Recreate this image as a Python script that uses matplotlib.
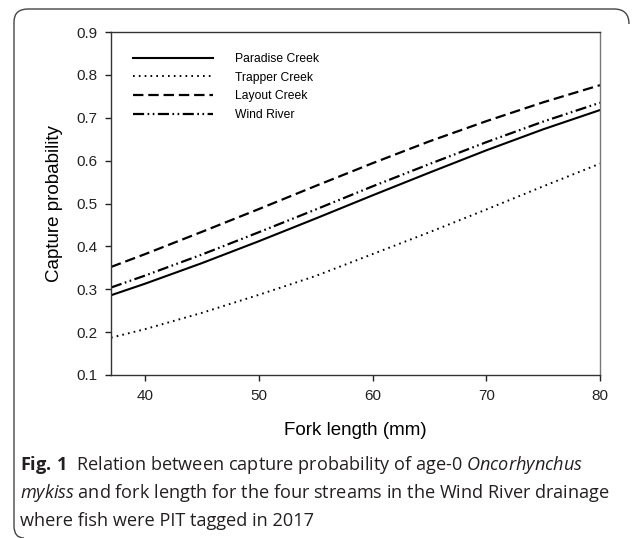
import matplotlib
matplotlib.use("Agg")
import matplotlib.pyplot as plt
from matplotlib.path import Path
from matplotlib.patches import PathPatch

# fork length (mm) and capture probability
fork_length = [37, 40, 45, 50, 55, 60, 65, 70, 75, 80]
paradise = [0.286, 0.313, 0.361, 0.412, 0.465, 0.519, 0.572, 0.624, 0.673, 0.718]
trapper = [0.187, 0.207, 0.245, 0.287, 0.331, 0.382, 0.433, 0.486, 0.540, 0.593]
layout = [0.352, 0.382, 0.434, 0.487, 0.541, 0.594, 0.645, 0.692, 0.736, 0.776]
wind = [0.304, 0.332, 0.381, 0.433, 0.486, 0.540, 0.592, 0.643, 0.691, 0.735]

labels = ["Paradise Creek", "Trapper Creek", "Layout Creek", "Wind River"]
xticks = [40, 50, 60, 70, 80]
yticks = [0.1, 0.2, 0.3, 0.4, 0.5, 0.6, 0.7, 0.8, 0.9]

plt.rcParams['font.family'] = ['Liberation Sans', 'DejaVu Sans']
plt.rcParams['mathtext.fontset'] = 'custom'
plt.rcParams['mathtext.rm'] = 'Open Sans'
plt.rcParams['mathtext.it'] = 'Open Sans:italic'
plt.rcParams['mathtext.bf'] = 'Open Sans:bold'
plt.rcParams['lines.scale_dashes'] = False

W, H = 634, 538
fig = plt.figure(figsize=(W / 100, H / 100), dpi=100)
ax = fig.add_axes([111 / W, 1 - 375 / H, (600 - 111) / W, (375 - 32) / H])

ax.plot(fork_length, paradise, color='black', lw=1.5, label=labels[0])
ax.plot(fork_length, trapper, color='black', lw=1.4, dashes=(1.2, 3.0), label=labels[1])
ax.plot(fork_length, layout, color='black', lw=1.6, dashes=(7.5, 3.5), label=labels[2])
ax.plot(fork_length, wind, color='black', lw=1.6, dashes=(8, 2.5, 1.2, 2.5, 1.2, 2.5), label=labels[3])

ax.set_xlim(37, 80)
ax.set_ylim(0.1, 0.9)
ax.set_xticks(xticks)
ax.set_yticks(yticks)
ax.set_xticklabels([str(v) for v in xticks])
ax.set_yticklabels(["%.1f" % v for v in yticks])
ax.tick_params(direction='out', length=4, width=1, labelsize=11, colors='#222222', pad=6)
for side in ['left', 'bottom', 'top', 'right']:
    ax.spines[side].set_linewidth(1.0)
    ax.spines[side].set_color('#333333')
ax.spines['right'].set_color('#777777')

ax.set_xlabel("Fork length (mm)", fontsize=13.5, labelpad=14)
ax.set_ylabel("Capture probability", fontsize=13.5, labelpad=9)

ax.legend(loc='upper left', bbox_to_anchor=(22 / 489, 1 - 21 / 343), frameon=False,
          fontsize=8.7, handlelength=6.6, handletextpad=1.85, labelspacing=0.55,
          borderpad=0, borderaxespad=0)

# rounded frame around figure + caption (open at bottom/right like the source)
def px(x, y):
    return (x / W, 1 - y / H)

verts = [px(24, 538), px(14, 538), px(14, 526),
         px(14, 22), px(14, 9), px(28, 9),
         px(614, 9), px(629, 9), px(629, 24)]
codes = [Path.MOVETO, Path.CURVE3, Path.CURVE3,
         Path.LINETO, Path.CURVE3, Path.CURVE3,
         Path.LINETO, Path.CURVE3, Path.CURVE3]
frame = PathPatch(Path(verts, codes), transform=fig.transFigure, fill=False,
                  edgecolor='#444444', lw=1.0)
fig.patches.append(frame)

cap_kw = dict(fontsize=13.1, family='Open Sans', color='#231f20', va='baseline', ha='left')
fig.text(20 / W, 1 - 470 / H,
         r"$\mathbf{Fig.\,1}$  Relation between capture probability of age-0 $\mathit{Oncorhynchus}$",
         **cap_kw)
fig.text(20 / W, 1 - 498 / H,
         r"$\mathit{mykiss}$ and fork length for the four streams in the Wind River drainage",
         **cap_kw)
fig.text(20 / W, 1 - 526 / H, "where fish were PIT tagged in 2017", **cap_kw)

fig.savefig("out.png", dpi=100)
